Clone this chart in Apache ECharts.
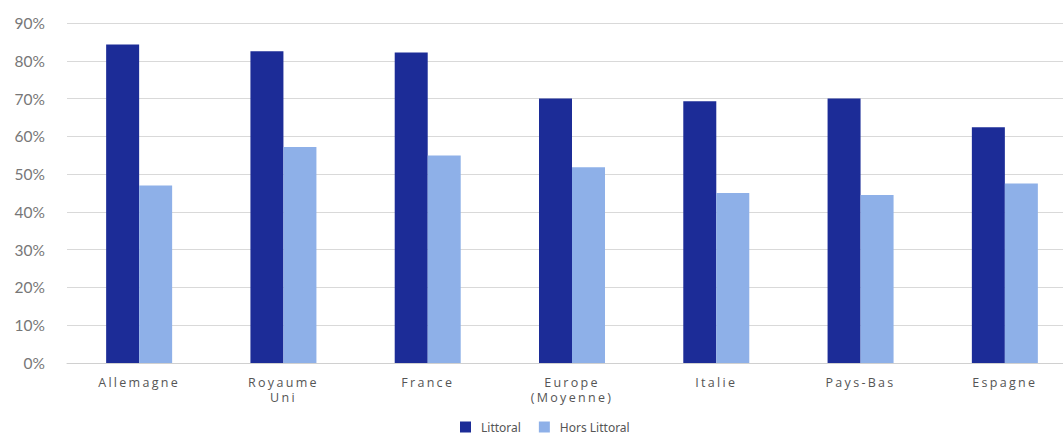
<!DOCTYPE html>
<html><head><meta charset="utf-8">
<script src="https://cdn.jsdelivr.net/npm/echarts@6/dist/echarts.min.js"></script>
<style>html,body{margin:0;padding:0;background:#fff}#c{width:1063px;height:441px}
#c text[style*="Open Sans"]{letter-spacing:2.3px}</style>
</head><body><div id="c"></div>
<script>
const categories = ['Allemagne', 'Royaume\nUni', 'France', 'Europe\n(Moyenne)', 'Italie', 'Pays-Bas', 'Espagne'];
const littoral = [84.3, 82.5, 82.2, 70.0, 69.3, 70.0, 62.4];
const horsLittoral = [47.0, 57.2, 54.9, 51.8, 45.0, 44.5, 47.5];
const seriesNames = ['Littoral', 'Hors Littoral'];

const chart = echarts.init(document.getElementById('c'), null, { renderer: 'svg' });
chart.setOption({
  animation: false,
  grid: { left: 67, right: -14, top: 23, bottom: 78, outerBoundsMode: 'none', containLabel: false },
  legend: {
    data: seriesNames, bottom: 3, left: 455, itemWidth: 11, itemHeight: 11, itemGap: 18,
    textStyle: { fontFamily: 'Noto Sans', fontSize: 12, color: '#555', padding: [0, 0, 0, 5] }, icon: 'rect'
  },
  xAxis: {
    type: 'category', data: categories,
    axisLine: { lineStyle: { color: '#d0d0d0' } }, axisTick: { show: false },
    axisLabel: { fontFamily: 'Open Sans', fontSize: 12.5, color: '#555', margin: 12, lineHeight: 15 }
  },
  yAxis: {
    type: 'value', min: 0, max: 90, interval: 10,
    axisLabel: { formatter: '{value}%', fontFamily: 'Lato', fontSize: 15.5, color: '#777', margin: 22 },
    splitLine: { lineStyle: { color: '#d9d9d9' } }, axisLine: { show: false }
  },
  series: [
    { name: seriesNames[0], type: 'bar', data: littoral, barWidth: 33, barGap: '0%', itemStyle: { color: '#1c2c97' } },
    { name: seriesNames[1], type: 'bar', data: horsLittoral, barWidth: 33, barGap: '0%', itemStyle: { color: '#8eb0e8' } }
  ]
});
</script></body></html>
